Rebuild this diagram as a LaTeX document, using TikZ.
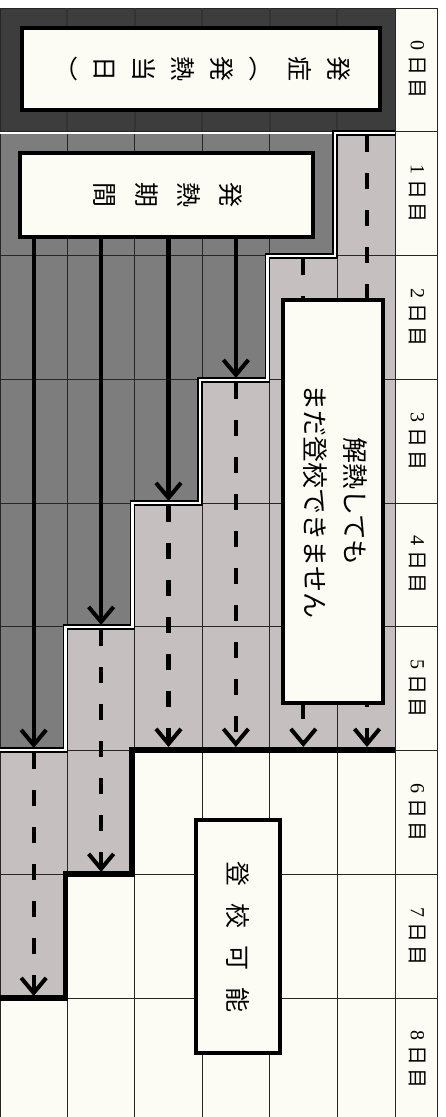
\documentclass[tikz,border=0pt]{standalone}
\usepackage{fontspec}
\usepackage{graphicx}
\usepackage{xcolor}
\usetikzlibrary{arrows.meta}
\newfontfamily\cjk{Noto Sans CJK JP}
\newfontfamily\digits{Liberation Serif}
\definecolor{paper}{RGB}{253,252,244}
\definecolor{onsetgray}{RGB}{62,61,61}
\definecolor{fevergray}{RGB}{126,125,125}
\definecolor{waitgray}{RGB}{197,192,191}
\newcommand{\daynum}{8}
\newcommand{\rowh}{123.75}

\begin{document}
\begin{tikzpicture}[x=1pt, y=-1pt,
  box/.style={draw=black, line width=3.5pt, fill=paper, inner sep=0pt},
  grid line/.style={line width=1pt, black!85},
  rail/.style={draw=black, line width=1.8pt, double=white, double distance=2.2pt},
  limit/.style={line width=5.5pt},
  fever arrow/.style={line width=4.2pt, shorten >=2pt,
    -{Straight Barb[length=15pt, width=25pt, line width=4pt]}},
  wait arrow/.style={line width=4.2pt, shorten <=3pt,
    dash pattern=on 16pt off 21pt,
    -{Straight Barb[length=15pt, width=25pt, line width=4pt]}}
]
\useasboundingbox (0,0) rectangle (446,1117);
\clip (0,0) rectangle (446,1117);
\fill[white] (0,0) rectangle (446,1117);

% Table
\fill[paper] (0,8) rectangle (437,1122);

% Waiting period
\fill[waitgray] (0,132) -- (395,132) -- (395,750) -- (132,750) -- (132,874)
  -- (65.5,874) -- (65.5,998) -- (0,998) -- cycle;

% Fever period
\fill[fevergray] (0,132) -- (335,132) -- (335,256) -- (267.5,256) -- (267.5,380)
  -- (200,380) -- (200,503) -- (132.5,503) -- (132.5,627) -- (65.5,627)
  -- (65.5,750) -- (0,750) -- cycle;

% Onset day
\fill[onsetgray] (0,8) rectangle (395,132);

% Grid
\foreach \i in {0,...,9}
{
  \draw[grid line] (0,8+\i*\rowh) -- (437,8+\i*\rowh);
}
\foreach \x in {0,67.4,134.8,202.2,269.6,337,395,437}
{
  \draw[grid line] (\x,8) -- (\x,1122);
}
\foreach \x in {67.4,134.8,202.2,269.6,337}
{
  \draw[line width=2pt, black!80] (\x,8) -- (\x,131);
}

% Steps
\draw[white, line width=2.2pt] (0,133) -- (335,133);
\draw[rail] (395,133) -- (335,133) -- (335,256) -- (267.5,256) -- (267.5,380)
  -- (200,380) -- (200,503) -- (132.5,503) -- (132.5,627) -- (65.5,627)
  -- (65.5,750) -- (0,750);
\draw[limit] (395,750) -- (132,750) -- (132,874) -- (65.5,874) -- (65.5,998)
  -- (0,998);

% Arrow ends
\foreach \c/\x/\s/\g in {1/33.7/750/996, 2/101.1/627/872, 3/168.5/503/747,
  4/235.9/380/747, 5/303.3/256/747, 6/367/133/747}
{
  \coordinate (step-\c) at (\x,\s);
  \coordinate (goal-\c) at (\x,\g);
}

% Boxes
\node[box, minimum width=358, minimum height=82] (onset) at (201,69)
  {\rotatebox{-90}{\fontsize{25}{39}\selectfont\cjk
   \begin{tabular}{@{}c@{}}発\\症\\︵\\発\\熱\\当\\日\\︶\end{tabular}}};

\node[box, minimum width=293, minimum height=84] (fever) at (166.5,195)
  {\rotatebox{-90}{\fontsize{25}{42}\selectfont\cjk
   \begin{tabular}{@{}c@{}}発\\熱\\期\\間\end{tabular}}};

% Fever arrows
\foreach \c in {1,...,4}
{
  \draw[fever arrow] (fever.south -| step-\c) -- (step-\c);
}

% Waiting arrows
\foreach \c in {1,...,6}
{
  \draw[wait arrow] (step-\c) -- (goal-\c);
}

\node[box, line width=4pt, minimum width=100, minimum height=403] (wait)
  at (333,501.5)
  {\rotatebox{-90}{\fontsize{26}{40}\selectfont\cjk
   \begin{tabular}{@{}c@{}}解熱しても\\まだ登校できません\end{tabular}}};

\node[box, line width=3.5pt, minimum width=84, minimum height=233] (ok)
  at (238,936.5)
  {\rotatebox{-90}{\fontsize{25}{30}\selectfont\cjk
   登\hspace{17pt}校\hspace{17pt}可\hspace{17pt}能}};

% Day labels
\foreach \d in {0,...,\daynum}
{
  \node[inner sep=0pt] (day-\d) at (418,8+\d*\rowh+0.5*\rowh)
    {\rotatebox{-90}{\fontsize{20}{24}\selectfont
     {\digits\d}\hspace{5pt}{\cjk 日}\hspace{3pt}{\cjk 目}}};
}

\end{tikzpicture}
\end{document}
